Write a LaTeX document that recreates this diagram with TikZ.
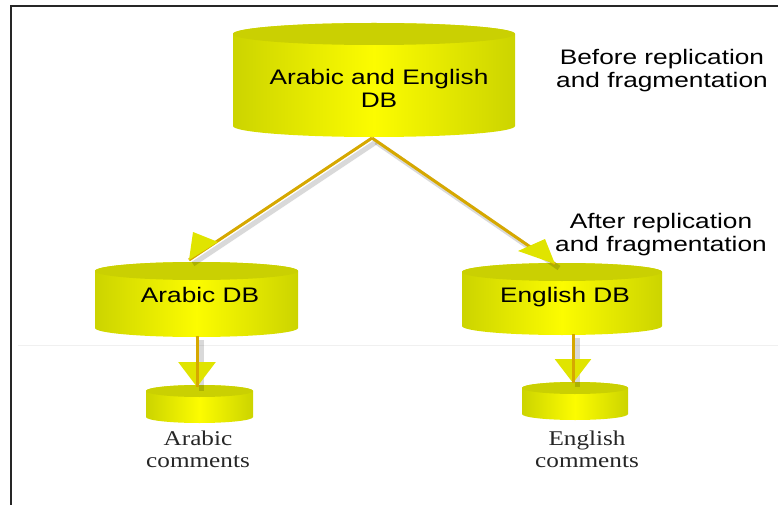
\documentclass[tikz,border=0pt]{standalone}
\usepackage{fontspec}
\usetikzlibrary{arrows.meta}
\newfontfamily\dbfont[FakeStretch=1.25]{Liberation Sans}
\newfontfamily\cmtfont[FakeStretch=1.2]{Liberation Serif}
\definecolor{dbside}{RGB}{204,212,0}
\definecolor{dbmid}{RGB}{252,252,0}
\definecolor{dbtop}{RGB}{202,208,2}
\definecolor{arrowgold}{RGB}{214,168,0}
\definecolor{tipyellow}{RGB}{224,228,0}

% centre x, top y, width, height, rim radius (y counted downwards)
\newcommand{\dbdrum}[5]{%
  \shade[left color=dbside,right color=dbside,middle color=dbmid]
    ({#1-#3/2},{-(#2+#5)}) -- ({#1-#3/2},{-(#2+#4-#5)})
    arc[start angle=180,end angle=360,x radius=#3/2,y radius=#5]
    -- ({#1+#3/2},{-(#2+#5)})
    arc[start angle=0,end angle=180,x radius=#3/2,y radius=#5] -- cycle;
  \fill[dbtop] (#1,{-(#2+#5)}) ellipse[x radius=#3/2,y radius=#5];
}

\begin{document}
\begin{tikzpicture}[x=1pt,y=1pt,
    dblabel/.style={font=\dbfont\fontsize{21}{23}\selectfont,align=center},
    cmtlabel/.style={font=\cmtfont\fontsize{21}{22}\selectfont,align=center,text=black!85},
    feed/.style={draw=arrowgold,line width=3pt},
    feedtip/.style n args={2}{-{Triangle[length=#1,width=#2,color=tipyellow]}},
    feedshadow/.style={draw=black,opacity=0.15,line width=5pt}]
    \useasboundingbox (0,0) rectangle (778,-505);

    % frame
    \draw[line width=1.6pt,black!85](778,-6)--(11,-6)--(11,-505);
    \draw[black!6](18,-345)--(778,-345);

    % databases
    \dbdrum{374}{23}{282}{114}{11}
    \dbdrum{196.5}{262}{203}{75}{9}
    \dbdrum{562}{263}{200}{72}{9}
    \dbdrum{199.5}{385}{107}{38}{6}
    \dbdrum{575}{382}{106}{38}{6}

    \node[dblabel](fulldb)at(379,-88.5){Arabic and English\\DB};
    \node[dblabel](arabdb)at(200,-295){Arabic DB};
    \node[dblabel](engdb)at(565,-297){English DB};
    \node[dblabel](before)at(662,-71){Before replication\\and fragmentation};
    \node[dblabel](after)at(661,-235){After replication\\and fragmentation};
    \node[cmtlabel](arabcmt)at(198,-449){Arabic\\comments};
    \node[cmtlabel](engcmt)at(587,-449){English\\comments};

    \coordinate(fullbase)at(372,-138);
    \coordinate(arabtop)at(189,-260);
    \coordinate(engtop)at(555,-264);
    \coordinate(arabbase)at(197,-336);
    \coordinate(arabcmttop)at(197,-387);
    \coordinate(engbase)at(573,-334);
    \coordinate(engcmttop)at(573,-383);

    % fragmentation arrows, heads turned a little downwards
    \foreach \b in {arabtop,engtop}{
        \draw[feedshadow]([shift={(4,-4)}]fullbase)--([shift={(4,-4)}]\b);
        \draw[feed](fullbase)--(\b);
    }
    \fill[tipyellow](arabtop)--++(4,28)--++(25,-10)--cycle;
    \fill[tipyellow](engtop)--++(-10,25)--++(-27,-12)--cycle;

    % comment arrows
    \foreach \a/\b/\l/\w in {arabbase/arabcmttop/25pt/37pt,engbase/engcmttop/24pt/36pt}{
        \draw[feedshadow]([shift={(4,-4)}]\a)--([shift={(4,-4)}]\b);
        \draw[feed,feedtip={\l}{\w}](\a)--(\b);
        \draw[feed](\a)--(\b);
    }
\end{tikzpicture}
\end{document}
